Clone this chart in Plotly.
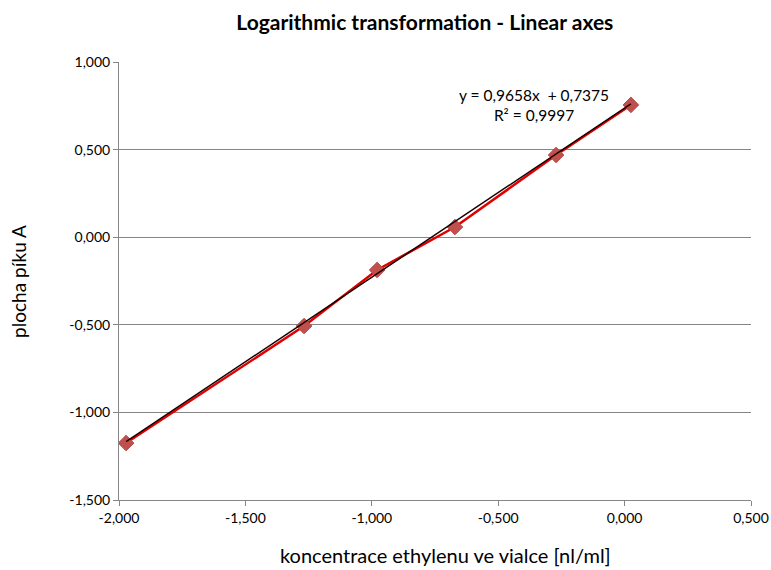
import plotly.graph_objects as go

x_vals = [-1.972, -1.268, -0.979, -0.671, -0.271, 0.025]
y_vals = [-1.175, -0.507, -0.187, 0.058, 0.469, 0.755]
slope = 0.9658
intercept = 0.7375
tick_vals_x = [-2.0, -1.5, -1.0, -0.5, 0.0, 0.5]
tick_text_x = ["-2,000", "-1,500", "-1,000", "-0,500", "0,000", "0,500"]
tick_vals_y = [-1.5, -1.0, -0.5, 0.0, 0.5, 1.0]
tick_text_y = ["-1,500", "-1,000", "-0,500", "0,000", "0,500", "1,000"]

trend_x = [x_vals[0], x_vals[-1]]
trend_y = [slope * v + intercept for v in trend_x]

font_family = "Lato, 'Open Sans', sans-serif"

fig = go.Figure()
fig.add_trace(go.Scatter(
    x=x_vals, y=y_vals, mode="lines+markers",
    line=dict(color="#e00000", width=2.5),
    marker=dict(symbol="diamond", size=12, color="#c0504d",
                line=dict(color="#b84a47", width=1)),
    showlegend=False,
))
fig.add_trace(go.Scatter(
    x=trend_x, y=trend_y, mode="lines",
    line=dict(color="#1a0000", width=1.5),
    showlegend=False,
))

fig.update_layout(
    width=771, height=570,
    margin=dict(l=119, r=20, t=62, b=70),
    paper_bgcolor="white", plot_bgcolor="white",
    font=dict(family=font_family, size=14, color="#000000"),
    title=dict(text="<b>Logarithmic transformation - Linear axes</b>",
               x=0.551, xanchor="center", xref="container",
               y=0.96, yanchor="middle", yref="container",
               font=dict(size=21, family=font_family)),
    xaxis=dict(
        range=[-2.0, 0.5], tickvals=tick_vals_x, ticktext=tick_text_x,
        showgrid=False, zeroline=False, automargin=False,
        showline=True, linecolor="#868686", linewidth=1,
        ticks="outside", ticklen=5, tickcolor="#868686",
        tickfont=dict(size=14),
    ),
    yaxis=dict(
        range=[-1.5, 1.0], tickvals=tick_vals_y, ticktext=tick_text_y,
        showgrid=True, gridcolor="#868686", gridwidth=1,
        zeroline=False, automargin=False,
        showline=True, linecolor="#868686", linewidth=1,
        ticks="outside", ticklen=5, tickcolor="#868686",
        tickfont=dict(size=14),
    ),
)

fig.add_annotation(
    x=0.517, y=-0.1256, xref="paper", yref="paper",
    xanchor="center", yanchor="middle",
    text="koncentrace ethylenu ve vialce [nl/ml]",
    showarrow=False, font=dict(size=20, family=font_family),
)
fig.add_annotation(
    x=-0.160, y=0.5, xref="paper", yref="paper",
    xanchor="center", yanchor="middle", textangle=-90,
    text="plocha píku A",
    showarrow=False, font=dict(size=19, family=font_family),
)
fig.add_annotation(
    x=-0.36, y=0.755, xref="x", yref="y",
    text="y = 0,9658x  + 0,7375<br>R² = 0,9997",
    showarrow=False, align="center",
    font=dict(size=15.5, family=font_family),
)

fig.write_html(
    "out.html",
    config={"displayModeBar": False},
    post_script="document.body.style.margin='0';document.body.style.overflow='hidden';",
)
